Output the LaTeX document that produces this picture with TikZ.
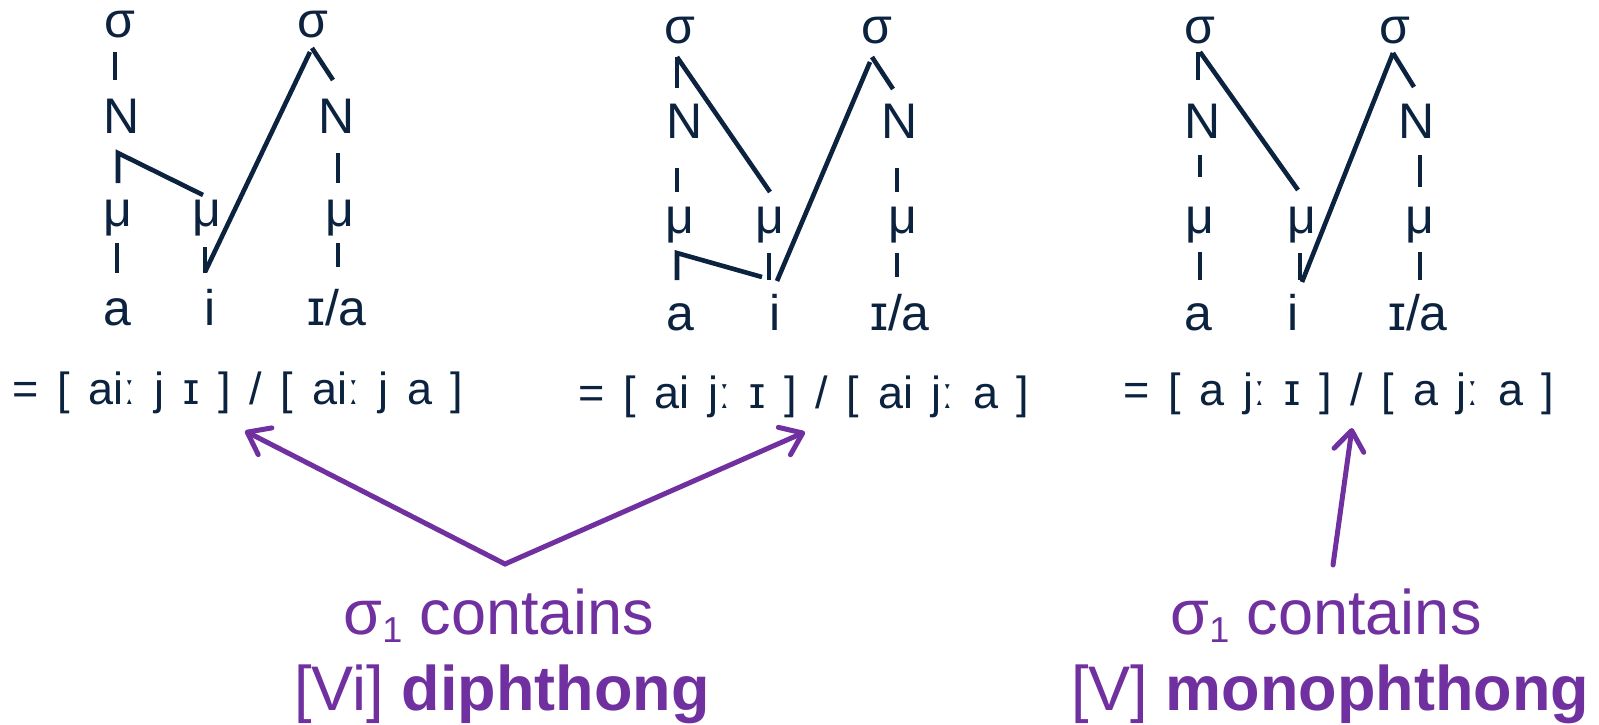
\documentclass[tikz,border=0pt]{standalone}
\usepackage{fontspec}
\setmainfont{Liberation Sans}
\newfontfamily\eqfont[WordSpace=1.5]{Liberation Sans}
\usetikzlibrary{arrows.meta}
\definecolor{navy}{HTML}{0C2340}
\definecolor{purp}{HTML}{7030A0}
\newcommand{\lowone}{\raisebox{-8pt}{\fontsize{36}{36}\selectfont 1}}
\begin{document}
\begin{tikzpicture}[x=1pt,y=-1pt,
 lab/.style={anchor=base,inner sep=0pt,text=navy,font=\fontsize{50}{60}\selectfont},
 eqn/.style={anchor=base west,inner sep=0pt,text=navy,font=\eqfont\fontsize{45}{54}\selectfont},
 ptext/.style={anchor=base,inner sep=0pt,text=purp,font=\fontsize{63}{75}\selectfont},
 link/.style={draw=navy,line width=4.6pt},
 parrow/.style={draw=purp,line width=5pt,line cap=round,-{Straight Barb[length=20pt,width=30pt,line cap=round,line join=round]}}]
\fill[white] (0,0) rectangle (1599,724);
\useasboundingbox (0,0) rectangle (1599,724);

% ---------- tree 1 ----------
\node[lab] (t1s1) at (120,37) {σ};
\node[lab] (t1s2) at (313,37) {σ};
\node[lab] (t1n1) at (122,133) {N};
\node[lab] (t1n2) at (337,133) {N};
\node[lab] (t1m1) at (118,226) {μ};
\node[lab] (t1m2) at (207,226) {μ};
\node[lab] (t1m3) at (340,226) {μ};
\node[lab] (t1a) at (117,325) {a};
\node[lab] (t1i) at (210,325) {i};
\node[lab] (t1ia) at (337,325) {ɪ/a};
\node[eqn] (t1eq) at (12,404) {= [ aiː j ɪ ] / [ aiː j a ]};

\draw[link] ([shift={(-5,15)}]t1s1.base) -- ([shift={(-7,-53)}]t1n1.base);
\draw[link] ([shift={(-1,11)}]t1s2.base) -- ([shift={(-4,-53)}]t1n2.base);
\draw[link] ([shift={(-3,15)}]t1s2.base) -- ([shift={(-5,-53)}]t1i.base);
\draw[link] ([shift={(0,-43)}]t1m1.base) -- ([shift={(-4,20)}]t1n1.base) -- ([shift={(-4,-31)}]t1m2.base);
\draw[link] ([shift={(1,20)}]t1n2.base) -- ([shift={(-2,-43)}]t1m3.base);
\draw[link] ([shift={(-1,17)}]t1m1.base) -- ([shift={(0,-52)}]t1a.base);
\draw[link] ([shift={(-2,21)}]t1m2.base) -- ([shift={(-5,-52)}]t1i.base);
\draw[link] ([shift={(-2,17)}]t1m3.base) -- ([shift={(1,-58)}]t1ia.base);

% ---------- tree 2 ----------
\node[lab] (t2s1) at (680,43) {σ};
\node[lab] (t2s2) at (877,43) {σ};
\node[lab] (t2n1) at (685,138) {N};
\node[lab] (t2n2) at (900,138) {N};
\node[lab] (t2m1) at (680,233) {μ};
\node[lab] (t2m2) at (770,233) {μ};
\node[lab] (t2m3) at (903,233) {μ};
\node[lab] (t2a) at (680,330) {a};
\node[lab] (t2i) at (775,330) {i};
\node[lab] (t2ia) at (900,330) {ɪ/a};
\node[eqn] (t2eq) at (578,408) {= [ ai jː ɪ ] / [ ai jː a ]};

\draw[link] ([shift={(-3,14)}]t2s1.base) -- ([shift={(-8,-50)}]t2n1.base);
\draw[link] ([shift={(-3,14)}]t2s1.base) -- ([shift={(0,-41)}]t2m2.base);
\draw[link] ([shift={(-8,30)}]t2n1.base) -- ([shift={(-3,-41)}]t2m1.base);
\draw[link] ([shift={(-7,19)}]t2s2.base) -- ([shift={(2,-49)}]t2i.base);
\draw[link] ([shift={(-5,14)}]t2s2.base) -- ([shift={(-7,-49)}]t2n2.base);
\draw[link] ([shift={(-3,30)}]t2n2.base) -- ([shift={(-6,-41)}]t2m3.base);
\draw[link] ([shift={(-3,-50)}]t2a.base) -- ([shift={(-3,20)}]t2m1.base) -- ([shift={(-13,-53)}]t2i.base);
\draw[link] ([shift={(-1,20)}]t2m2.base) -- ([shift={(-6,-50)}]t2i.base);
\draw[link] ([shift={(-6,20)}]t2m3.base) -- ([shift={(-3,-53)}]t2ia.base);

% ---------- tree 3 ----------
\node[lab] (t3s1) at (1200,43) {σ};
\node[lab] (t3s2) at (1395,43) {σ};
\node[lab] (t3n1) at (1203,138) {N};
\node[lab] (t3n2) at (1417,138) {N};
\node[lab] (t3m1) at (1200,233) {μ};
\node[lab] (t3m2) at (1302,233) {μ};
\node[lab] (t3m3) at (1420,233) {μ};
\node[lab] (t3a) at (1198,330) {a};
\node[lab] (t3i) at (1293,330) {i};
\node[lab] (t3ia) at (1418,330) {ɪ/a};
\node[eqn] (t3eq) at (1123,405) {= [ a jː ɪ ] / [ a jː a ]};

\draw[link] ([shift={(-2,9)}]t3s1.base) -- ([shift={(-5,-58)}]t3n1.base);
\draw[link] ([shift={(0,9)}]t3s1.base) -- ([shift={(-4,-43)}]t3m2.base);
\draw[link] ([shift={(-3,17)}]t3n1.base) -- ([shift={(0,-56)}]t3m1.base);
\draw[link] ([shift={(0,19)}]t3m1.base) -- ([shift={(2,-50)}]t3a.base);
\draw[link] ([shift={(-2,20)}]t3m2.base) -- ([shift={(7,-50)}]t3i.base);
\draw[link] ([shift={(-2,10)}]t3s2.base) -- ([shift={(9,-48)}]t3i.base);
\draw[link] ([shift={(-2,10)}]t3s2.base) -- ([shift={(-3,-51)}]t3n2.base);
\draw[link] ([shift={(3,17)}]t3n2.base) -- ([shift={(0,-46)}]t3m3.base);
\draw[link] ([shift={(0,19)}]t3m3.base) -- ([shift={(2,-50)}]t3ia.base);

% ---------- purple labels and arrows ----------
\node[ptext] (p1a) at (499,634) {σ\lowone{} contains};
\node[ptext] (p1b) at (502,710) {[Vi] \textbf{diphthong}};
\node[ptext] (p2a) at (1326,634) {σ\lowone{} contains};
\node[ptext] (p2b) at (1330,710) {[V] \textbf{monophthong}};

\coordinate (apex1) at (505,564);
\coordinate (apex2) at (1333,565);
\draw[parrow] (apex1) -- ([shift={(233,27)}]t1eq.base west);
\draw[parrow] (apex1) -- ([shift={(227,24)}]t2eq.base west);
\draw[parrow] (apex2) -- ([shift={(229,23)}]t3eq.base west);
\end{tikzpicture}
\end{document}
